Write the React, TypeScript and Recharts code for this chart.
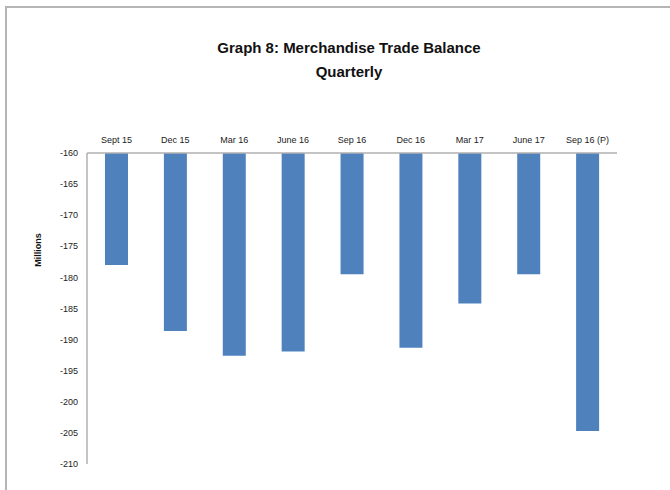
import { Bar, BarChart, XAxis, YAxis } from "recharts";

const quarters = [
  "Sept 15",
  "Dec 15",
  "Mar 16",
  "June 16",
  "Sep 16",
  "Dec 16",
  "Mar 17",
  "June 17",
  "Sep 16 (P)",
];

const balance = [-178.0, -188.6, -192.6, -191.9, -179.5, -191.3, -184.2, -179.5, -204.7];

const yTicks = [-160, -165, -170, -175, -180, -185, -190, -195, -200, -205, -210];

const data = quarters.map((q, i) => ({ quarter: q, value: balance[i] }));

const FONT = "'Liberation Sans', Arial, sans-serif";

const App = () => {
  return (
    <div
      style={{
        position: "absolute",
        left: 0,
        top: 0,
        width: 670,
        height: 490,
        background: "#fff",
        fontFamily: FONT,
      }}
    >
      <div
        style={{
          position: "absolute",
          left: 5,
          top: 6,
          width: 670,
          height: 490,
          borderLeft: "2px solid #b5b5b5",
          borderTop: "2px solid #b5b5b5",
        }}
      />
      <div
        style={{
          position: "absolute",
          left: 0,
          width: 698,
          top: 36,
          textAlign: "center",
          fontWeight: "bold",
          fontSize: 15,
          lineHeight: "24px",
          color: "#111",
        }}
      >
        Graph 8: Merchandise Trade Balance
        <br />
        Quarterly
      </div>
      <div
        style={{
          position: "absolute",
          left: 38,
          top: 250,
          transform: "translate(-50%, -50%) rotate(-90deg)",
          fontWeight: "bold",
          fontSize: 9,
          color: "#111",
          whiteSpace: "nowrap",
        }}
      >
        Millions
      </div>
      <BarChart
        width={670}
        height={490}
        data={data}
        margin={{ top: 123, right: 53, bottom: 26, left: 27 }}
        style={{ position: "absolute", left: 0, top: 0 }}
      >
        <XAxis
          dataKey="quarter"
          orientation="top"
          height={30}
          interval={0}
          axisLine={{ stroke: "#b0b0b0", strokeWidth: 1.5 }}
          tickLine={false}
          tickSize={0}
          tickMargin={10}
          tick={{ fontSize: 9, fill: "#222", fontFamily: FONT }}
        />
        <YAxis
          width={60}
          domain={[-210, -160]}
          ticks={yTicks}
          interval={0}
          axisLine={{ stroke: "#b0b0b0", strokeWidth: 1.5 }}
          tickLine={false}
          tickSize={0}
          tickMargin={9}
          tick={{ fontSize: 9, fill: "#222", fontFamily: FONT }}
        />
        <Bar dataKey="value" fill="#4f81bd" barSize={23} isAnimationActive={false} />
      </BarChart>
    </div>
  );
};

export default App;
